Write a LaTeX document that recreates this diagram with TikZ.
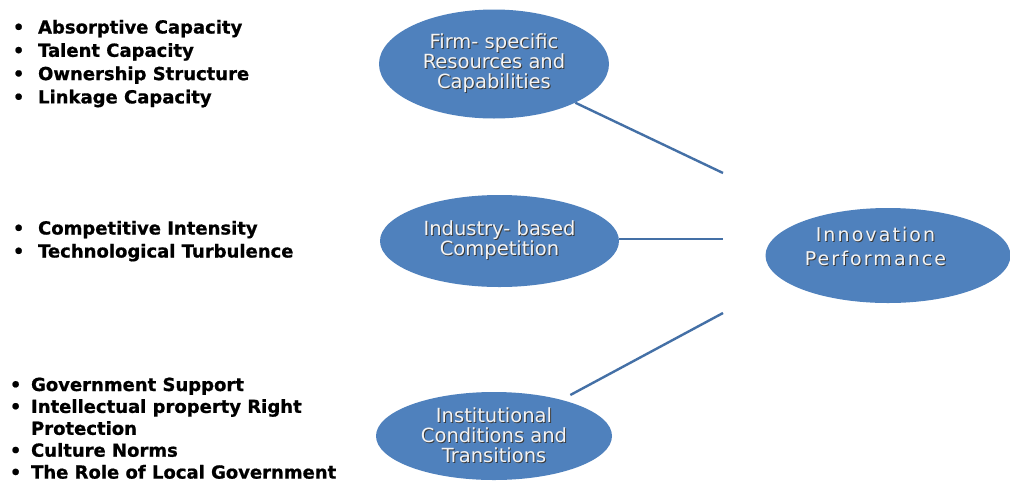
\documentclass[tikz,border=0pt]{standalone}
\usepackage{fontspec}
\setmainfont{DejaVu Sans}
\usetikzlibrary{positioning}
\usetikzlibrary{shapes.geometric}
\definecolor{bubblefill}{HTML}{4F81BD}
\definecolor{bubbletext}{HTML}{F4F4F4}
\definecolor{shadowgray}{HTML}{3A3A3A}
\definecolor{linkline}{HTML}{4470A6}
\newcommand{\shadowline}[1]{\makebox[0pt][l]{\hspace{1pt}\raisebox{-1pt}{\textcolor{shadowgray}{#1}}}#1}
\tikzset{
  bubble/.style={ellipse,fill=bubblefill,inner sep=0pt,text=bubbletext,align=center,font={\fontsize{19.5}{20}\selectfont}},
  link/.style={draw=linkline,line width=2.4pt},
  factorlist/.style={anchor=base west,inner sep=0pt,text=black}
}
\begin{document}
\begin{tikzpicture}[x=1pt,y=-1pt]
\fill[white] (0,0) rectangle (1010,483);
\useasboundingbox (0,0) rectangle (1010,483);
\node[bubble,minimum width=230pt,minimum height=109pt] (firm) at (494,64) {\shadowline{Firm- specific}\\\shadowline{Resources and}\\\shadowline{Capabilities}};
\node[bubble,minimum width=239pt,minimum height=92pt] (industry) at (499.5,241) {\shadowline{Industry- based}\\\shadowline{Competition}};
\node[bubble,minimum width=236pt,minimum height=88pt] (inst) at (494,436) {\shadowline{Institutional}\\\shadowline{Conditions and}\\\shadowline{Transitions}};
\node[bubble,minimum width=245pt,minimum height=95pt] (perf) at (888,255.5) {};
\node[align=center,inner sep=0pt,text=bubbletext,font={\fontsize{19}{24}\selectfont\addfontfeatures{LetterSpace=11}}] (perftext) at (875.5,247) {\shadowline{Innovation}\\\shadowline{Performance}};

\coordinate (c1) at (723,173);
\coordinate (c2) at (723,239);
\coordinate (c3) at (723,313);
\draw[link] (firm) -- (c1);
\draw[link] (industry.east |- c2) -- (c2);
\draw[link,shorten <=10pt] (inst) -- (c3);

\node[factorlist,font={\bfseries\fontsize{18}{23.3}\selectfont\addfontfeatures{FakeBold=0.8}}] (firmlist) at (12.7,33.5) {\begin{tabular}[t]{@{}c@{\hspace{13.7pt}}l@{}}
• & Absorptive Capacity\\
• & Talent Capacity\\
• & Ownership Structure\\
• & Linkage Capacity
\end{tabular}};
\node[factorlist,font={\bfseries\fontsize{18}{23}\selectfont\addfontfeatures{FakeBold=0.8}}] (industrylist) at (12.7,234.5) {\begin{tabular}[t]{@{}c@{\hspace{13.7pt}}l@{}}
• & Competitive Intensity\\
• & Technological Turbulence
\end{tabular}};
\node[factorlist,font={\bfseries\fontsize{18}{21.9}\selectfont\addfontfeatures{FakeBold=0.8}}] (instlist) at (9.7,391) {\begin{tabular}[t]{@{}c@{\hspace{9.7pt}}l@{}}
• & Government Support\\
• & Intellectual property Right\\
  & Protection\\
• & Culture Norms\\
• & The Role of Local Government
\end{tabular}};
\end{tikzpicture}
\end{document}
